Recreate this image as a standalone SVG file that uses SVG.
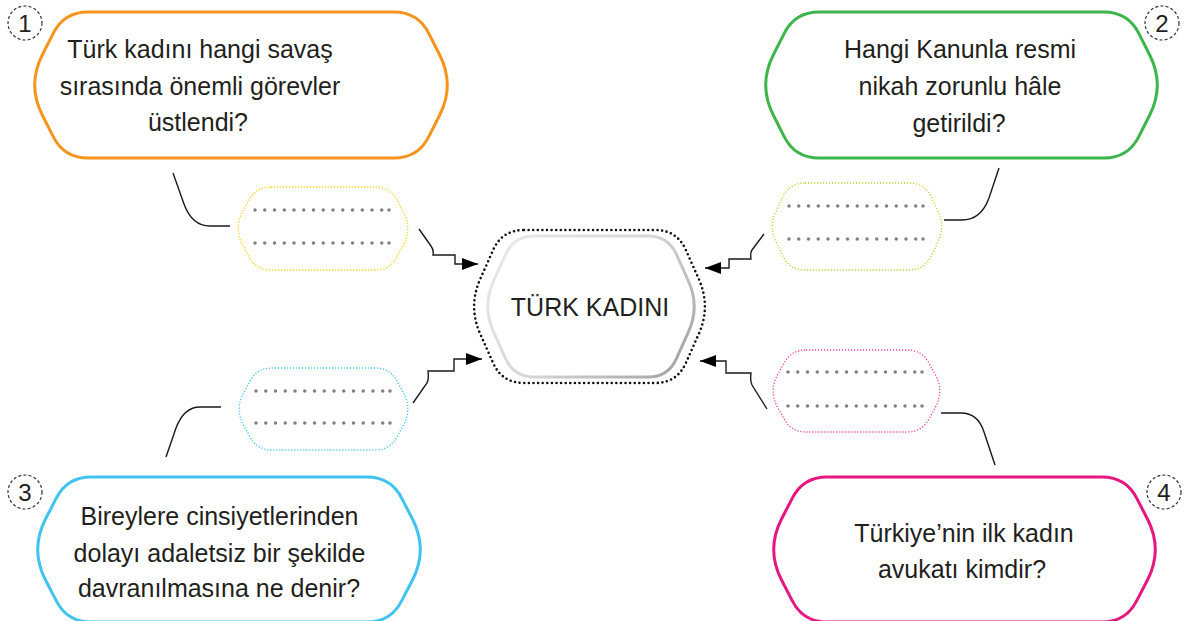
<svg xmlns="http://www.w3.org/2000/svg" width="1185" height="621" viewBox="0 0 1185 621">
<style>
.q{font-family:"Liberation Sans",Arial,sans-serif;font-size:25px;fill:#231F20;text-anchor:middle}
.num{font-family:"Liberation Sans",Arial,sans-serif;font-size:24px;fill:#231F20;text-anchor:middle}
.nc{fill:none;stroke:#333;stroke-width:1.2;stroke-dasharray:3 2.2}
.node{fill:#fff;stroke-width:3}
.ans{fill:#fff;stroke-width:1.3;stroke-dasharray:1.2 1.8}
.dots{stroke:#808080;stroke-width:3.5;stroke-linecap:round;stroke-dasharray:0 9.75;fill:none}
.dot{fill:#808080}
.conn{fill:none;stroke:#1a1a1a;stroke-width:1.4}
</style>
<defs>
<linearGradient id="gin" x1="0" y1="0.2" x2="1" y2="0.8">
<stop offset="0" stop-color="#E8E8E8"/>
<stop offset="0.5" stop-color="#D6D6D6"/>
<stop offset="1" stop-color="#A6A6A6"/>
</linearGradient>
<marker id="ah" markerUnits="userSpaceOnUse" markerWidth="18" markerHeight="14" refX="16" refY="6" orient="auto">
<path d="M0,0 L16,6 L0,12 Z" fill="#000"/>
</marker>
</defs>

<g id="connectors">
<path class="conn" d="M173,173 L184,204 Q192,226 210,226 L230,226"/>
<path class="conn" d="M999,168 L989,198 Q981,220 962,220 L944,220"/>
<path class="conn" d="M166,457 L176,428 Q184,407 200,407 L221,407"/>
<path class="conn" d="M941,413 L961,413 Q978,413 984,432 L995,465"/>
<path class="conn" marker-end="url(#ah)" d="M419,229 L431,246 Q434,250 433,255 L455,255 L455,264 L478,264"/>
<path class="conn" marker-end="url(#ah)" d="M764,234 L752,250 Q750,253 751,259 L729,259 L729,268 L705,268"/>
<path class="conn" marker-end="url(#ah)" d="M413,403 L427,383 Q429,379 428,371 L454,371 L454,359 L482,359"/>
<path class="conn" marker-end="url(#ah)" d="M767,409 L752,385 Q750,381 751,373 L726,373 L726,361 L700,361"/>
</g>

<g id="center">
<path d="M524,230 L655,230 Q677,230 685.9,250.1 L698.8,279.1 Q711,306.5 698.8,333.9 L685.9,362.9 Q677,383 655,383 L524,383 Q502,383 493.1,362.9 L480.2,333.9 Q468,306.5 480.2,279.1 L493.1,250.1 Q502,230 524,230 Z" fill="#fff" stroke="#111" stroke-width="2.6" stroke-linecap="round" stroke-dasharray="0 4.6"/>
<path d="M534,236 L648,236 Q668,236 676.3,254.2 L688.4,281 Q700,306.5 688.4,332 L676.3,358.8 Q668,377 648,377 L534,377 Q514,377 505.7,358.8 L493.6,332 Q482,306.5 493.6,281 L505.7,254.2 Q514,236 534,236 Z" fill="#fff" stroke="url(#gin)" stroke-width="3"/>
<text class="q" x="590" y="316">TÜRK KADINI</text>
</g>

<g id="q1">
<path class="node" stroke="#F7941D" d="M88,12 L394,12 Q418,12 428.8,33.4 L439.6,54.7 Q455,85 439.6,115.3 L428.8,136.6 Q418,158 394,158 L88,158 Q64,158 53.2,136.6 L42.4,115.3 Q27,85 42.4,54.7 L53.2,33.4 Q64,12 88,12 Z"/>
<text class="q" x="200" y="58">Türk kadını hangi savaş</text>
<text class="q" x="200" y="95">sırasında önemli görevler</text>
<text class="q" x="198" y="131">üstlendi?</text>
<circle class="nc" cx="25" cy="23" r="17"/>
<text class="num" x="25" y="31.5">1</text>
</g>

<g id="q2">
<path class="node" stroke="#3DB54A" d="M819,12 L1104,12 Q1128,12 1138.8,33.4 L1149.6,54.7 Q1165,85 1149.6,115.3 L1138.8,136.6 Q1128,158 1104,158 L819,158 Q795,158 784.2,136.6 L773.4,115.3 Q758,85 773.4,54.7 L784.2,33.4 Q795,12 819,12 Z"/>
<text class="q" x="960" y="58">Hangi Kanunla resmi</text>
<text class="q" x="960" y="95">nikah zorunlu hâle</text>
<text class="q" x="959" y="132">getirildi?</text>
<circle class="nc" cx="1162" cy="23" r="17"/>
<text class="num" x="1162" y="31.5">2</text>
</g>

<g id="q3">
<path class="node" stroke="#40C3F1" d="M91,477 L367,477 Q391,477 401.8,498.4 L412.6,519.2 Q428,549.5 412.6,579.8 L401.8,600.6 Q391,622 367,622 L91,622 Q67,622 56.2,600.6 L45.4,579.8 Q30,549.5 45.4,519.2 L56.2,498.4 Q67,477 91,477 Z"/>
<text class="q" x="219.5" y="525">Bireylere cinsiyetlerinden</text>
<text class="q" x="219.5" y="562">dolayı adaletsiz bir şekilde</text>
<text class="q" x="219" y="597">davranılmasına ne denir?</text>
<circle class="nc" cx="25" cy="492" r="17"/>
<text class="num" x="25" y="500.5">3</text>
</g>

<g id="q4">
<path class="node" stroke="#E6177F" d="M827,477 L1102,477 Q1126,477 1136.8,498.4 L1147.6,519.2 Q1163,549.5 1147.6,579.8 L1136.8,600.6 Q1126,622 1102,622 L827,622 Q803,622 792.2,600.6 L781.4,579.8 Q766,549.5 781.4,519.2 L792.2,498.4 Q803,477 827,477 Z"/>
<text class="q" x="964" y="542">Türkiye’nin ilk kadın</text>
<text class="q" x="962" y="578">avukatı kimdir?</text>
<circle class="nc" cx="1164" cy="492" r="17"/>
<text class="num" x="1164" y="500.5">4</text>
</g>

<g id="a1">
<path class="ans" stroke="#FFD000" d="M271,187 L375,187 Q390,187 397,200.2 L403.6,212.6 Q412,228.5 403.6,244.4 L397,256.8 Q390,270 375,270 L271,270 Q256,270 249,256.8 L242.4,244.4 Q234,228.5 242.4,212.6 L249,200.2 Q256,187 271,187 Z"/>
<path class="dots" d="M255,210 H382 M255,243 H382"/>
<circle class="dot" cx="389" cy="210" r="1.75"/><circle class="dot" cx="389" cy="243" r="1.75"/>
</g>

<g id="a2">
<path class="ans" stroke="#B3D334" d="M805,183 L909,183 Q924,183 931,196.2 L937.6,210.6 Q946,226.5 937.6,242.4 L931,256.8 Q924,270 909,270 L805,270 Q790,270 783,256.8 L776.4,242.4 Q768,226.5 776.4,210.6 L783,196.2 Q790,183 805,183 Z"/>
<path class="dots" d="M789,206 H916 M789,239 H916"/>
<circle class="dot" cx="923" cy="206" r="1.75"/><circle class="dot" cx="923" cy="239" r="1.75"/>
</g>

<g id="a3">
<path class="ans" stroke="#40C3F1" d="M272,368 L375,368 Q390,368 397,381.2 L403.6,393.1 Q412,409 403.6,424.9 L397,436.8 Q390,450 375,450 L272,450 Q257,450 250,436.8 L243.4,424.9 Q235,409 243.4,393.1 L250,381.2 Q257,368 272,368 Z"/>
<path class="dots" d="M256,391 H383 M256,423 H383"/>
<circle class="dot" cx="390" cy="391" r="1.75"/><circle class="dot" cx="390" cy="423" r="1.75"/>
</g>

<g id="a4">
<path class="ans" stroke="#EE3F96" d="M806,350 L907,350 Q922,350 929,363.2 L935.6,375.1 Q944,391 935.6,406.9 L929,418.8 Q922,432 907,432 L806,432 Q791,432 784,418.8 L777.4,406.9 Q769,391 777.4,375.1 L784,363.2 Q791,350 806,350 Z"/>
<path class="dots" d="M788,372 H915 M788,406 H915"/>
<circle class="dot" cx="922" cy="372" r="1.75"/><circle class="dot" cx="922" cy="406" r="1.75"/>
</g>
</svg>
